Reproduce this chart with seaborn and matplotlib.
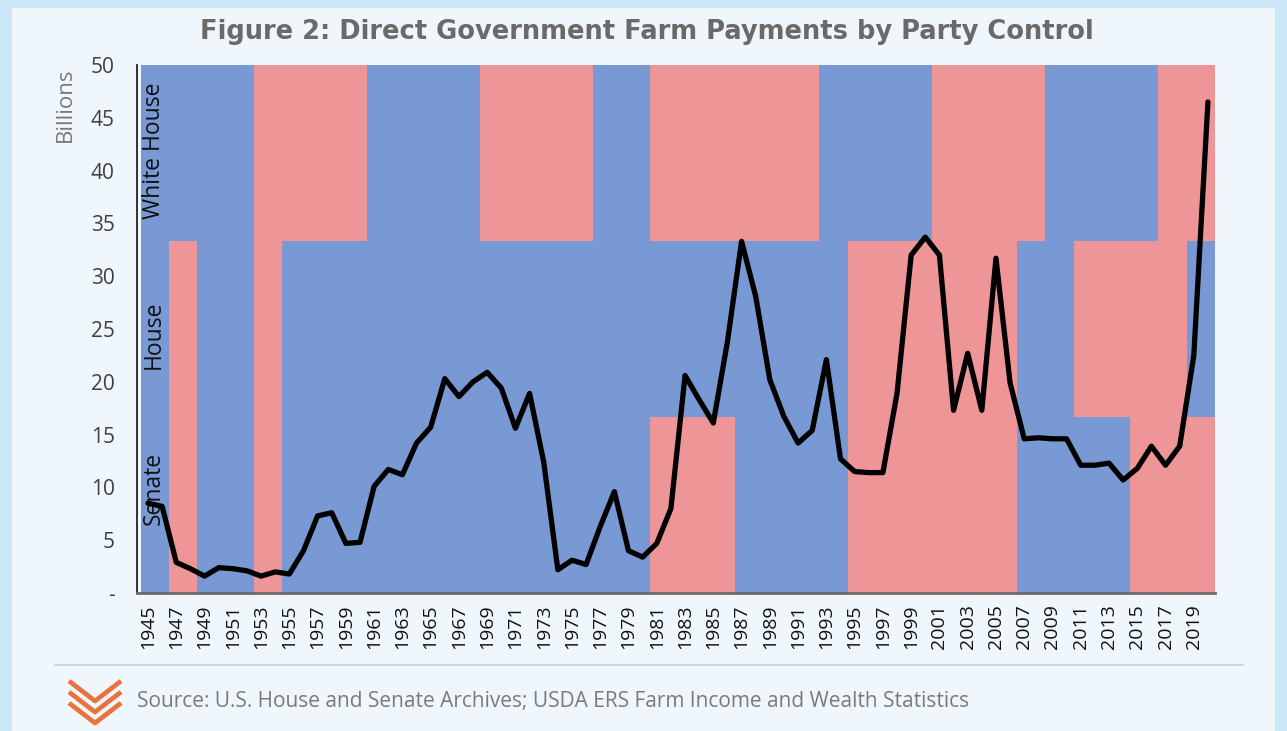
import matplotlib
matplotlib.use("Agg")
import matplotlib.pyplot as plt
import seaborn as sns
import pandas as pd
import numpy as np
from matplotlib.patches import Rectangle
from matplotlib.lines import Line2D

# ---------------- data ----------------
years = list(range(1945, 2021))
payments = [8.5, 8.2, 2.9, 2.3, 1.6, 2.4, 2.3, 2.1, 1.6, 2.0,
            1.8, 4.0, 7.3, 7.6, 4.7, 4.8, 10.1, 11.7, 11.2, 14.2,
            15.7, 20.3, 18.6, 20.0, 20.9, 19.4, 15.6, 18.9, 12.4, 2.2,
            3.1, 2.7, 6.3, 9.6, 4.0, 3.4, 4.7, 8.0, 20.6, 18.3,
            16.1, 23.8, 33.3, 28.1, 20.2, 16.7, 14.2, 15.4, 22.1, 12.7,
            11.5, 11.4, 11.4, 18.9, 32.0, 33.7, 32.0, 17.3, 22.7, 17.3,
            31.7, 19.9, 14.6, 14.7, 14.6, 14.6, 12.1, 12.1, 12.3, 10.7,
            11.8, 13.9, 12.1, 13.9, 22.5, 46.5]

white_house_spans = [(1945, 1952, "D"), (1953, 1960, "R"), (1961, 1968, "D"),
                     (1969, 1976, "R"), (1977, 1980, "D"), (1981, 1992, "R"),
                     (1993, 2000, "D"), (2001, 2008, "R"), (2009, 2016, "D"),
                     (2017, 2020, "R")]
house_spans = [(1945, 1946, "D"), (1947, 1948, "R"), (1949, 1952, "D"),
               (1953, 1954, "R"), (1955, 1994, "D"), (1995, 2006, "R"),
               (2007, 2010, "D"), (2011, 2018, "R"), (2019, 2020, "D")]
senate_spans = [(1945, 1946, "D"), (1947, 1948, "R"), (1949, 1952, "D"),
                (1953, 1954, "R"), (1955, 1980, "D"), (1981, 1986, "R"),
                (1987, 1994, "D"), (1995, 2006, "R"), (2007, 2014, "D"),
                (2015, 2020, "R")]
row_labels = ["Senate", "House", "White House"]
y_ticks = [0, 5, 10, 15, 20, 25, 30, 35, 40, 45, 50]
y_tick_labels = ["-", "5", "10", "15", "20", "25", "30", "35", "40", "45", "50"]
x_ticks = list(range(1945, 2020, 2))

title = "Figure 2: Direct Government Farm Payments by Party Control"
source = "Source: U.S. House and Senate Archives; USDA ERS Farm Income and Wealth Statistics"

# ---------------- style ----------------
sns.set_theme(style="white")
plt.rcParams["font.family"] = ["Open Sans", "DejaVu Sans"]

BLUE = "#7899D3"
RED = "#EE9598"
party_color = {"D": BLUE, "R": RED}

W, H = 1287, 731
fig = plt.figure(figsize=(W / 100, H / 100), dpi=100)
fig.patch.set_facecolor("#CBE6F6")
fig.add_artist(Rectangle((12 / W, 0), (1275 - 12) / W, (H - 8) / H,
                         transform=fig.transFigure, facecolor="#F0F7FC",
                         edgecolor="none", zorder=0))

ax = fig.add_axes([137 / W, (H - 593) / H, (1215 - 137) / W, 528 / H])
ax.set_facecolor("none")

band_h = 50 / 3
for row, spans in enumerate([senate_spans, house_spans, white_house_spans]):
    for start, end, party in spans:
        ax.bar((start + end) / 2, band_h, width=end - start + 1,
               bottom=row * band_h, color=party_color[party],
               linewidth=0, align="center", zorder=1)

df = pd.DataFrame({"year": years, "payments": payments})
sns.lineplot(data=df, x="year", y="payments", ax=ax, color="black",
             linewidth=3.8, zorder=3)

ax.set_xlim(1944.22, 2020.5)
ax.set_ylim(0, 50)
ax.set_xlabel("")
ax.set_ylabel("")
ax.set_yticks(y_ticks)
ax.set_yticklabels(y_tick_labels, fontsize=15, color="#404040")
ax.set_xticks(x_ticks)
ax.set_xticklabels([str(x) for x in x_ticks], rotation=90, fontsize=14,
                   color="#111111")
ax.tick_params(axis="y", length=0, pad=16)
ax.tick_params(axis="x", length=0, pad=8)
for s in ["top", "right"]:
    ax.spines[s].set_visible(False)
ax.spines["left"].set_color("#222222")
ax.spines["left"].set_linewidth(1.3)
ax.spines["bottom"].set_color("#6b6b6b")
ax.spines["bottom"].set_linewidth(2)
ax.spines["left"].set_zorder(4)
ax.spines["bottom"].set_zorder(4)

# row labels
row_centers = [9.9, 24.5, 41.85]
for lab, yc in zip(row_labels, row_centers):
    ax.text(0.0155, yc, lab, transform=ax.get_yaxis_transform(),
            rotation=90, ha="center", va="center", fontsize=16.5,
            color="#111111", zorder=2)

# y label
fig.text(65 / W, 1 - 105 / H, "Billions", rotation=90, ha="center",
         va="center", fontsize=16, color="#7a7a7a")

# title
fig.text(647 / W, 1 - 32 / H, title, ha="center", va="center",
         fontsize=18.5, fontweight="bold", color="#6a6a6a",
         family=["DejaVu Sans"])

# separator line
fig.add_artist(Line2D([55 / W, 1243 / W], [1 - 665 / H, 1 - 665 / H],
                      transform=fig.transFigure, color="#C9CED3", lw=1.2))

# logo (stacked chevrons)
logo_color = "#E9733F"
for k in range(3):
    y0 = 681 + k * 11
    xs = [69 / W, 95 / W, 121 / W]
    ys = [1 - y0 / H, 1 - (y0 + 20) / H, 1 - y0 / H]
    fig.add_artist(Line2D(xs, ys, transform=fig.transFigure,
                          color=logo_color, lw=3.4, solid_capstyle="butt"))

# source
fig.text(137 / W, 1 - 701 / H, source, ha="left", va="center",
         fontsize=15, color="#7a7a7a")

fig.savefig("out.png", dpi=100, facecolor=fig.get_facecolor())
